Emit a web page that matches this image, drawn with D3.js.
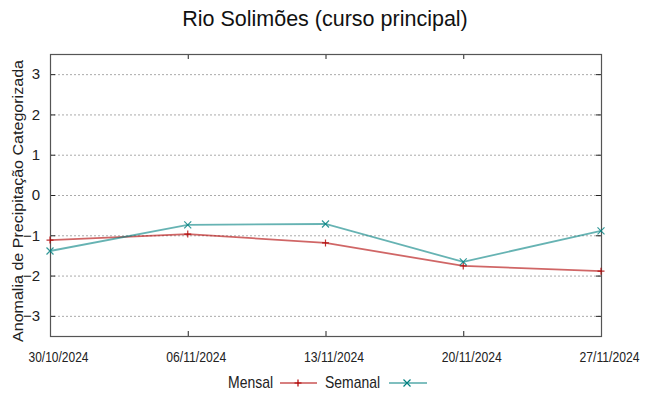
<!DOCTYPE html>
<html>
<head>
<meta charset="utf-8">
<script src="https://cdn.jsdelivr.net/npm/d3@7"></script>
<style>
  body { margin: 0; background: #fff; }
  svg { font-family: "Liberation Sans", Arial, sans-serif; }
</style>
</head>
<body>
<div id="chart"></div>
<script>
// Chart data
const dates = ["30/10/2024", "06/11/2024", "13/11/2024", "20/11/2024", "27/11/2024"];
const mensal = [-1.12, -0.97, -1.19, -1.76, -1.89];
const semanal = [-1.39, -0.74, -0.72, -1.66, -0.89];
const yTicks = [-3, -2, -1, 0, 1, 2, 3];

const width = 649, height = 396;
const margin = { top: 54, right: 48, bottom: 60, left: 50 };

const svg = d3.select("#chart").append("svg")
    .attr("width", width)
    .attr("height", height);

const parse = d3.timeParse("%d/%m/%Y");
const xDates = dates.map(parse);

const x = d3.scaleTime()
    .domain(d3.extent(xDates))
    .range([margin.left, width - margin.right]);

const y = d3.scaleLinear()
    .domain([-3.5, 3.5])
    .range([height - margin.bottom, margin.top]);

// Title
svg.append("text")
    .attr("x", 325)
    .attr("y", 26)
    .attr("text-anchor", "middle")
    .attr("font-size", 21.5)
    .attr("fill", "#111")
    .text("Rio Solimões (curso principal)");

// horizontal dotted grid
svg.append("g")
    .selectAll("line")
    .data(yTicks)
    .join("line")
    .attr("x1", margin.left)
    .attr("x2", width - margin.right)
    .attr("y1", d => y(d) + 0.5)
    .attr("y2", d => y(d) + 0.5)
    .attr("stroke", "#aaa")
    .attr("stroke-width", 1)
    .attr("stroke-dasharray", "2,2");

// axes, gnuplot style ticks pointing inward
const tickLen = 5;
svg.append("g")
    .attr("transform", `translate(${margin.left},0)`)
    .call(d3.axisLeft(y).tickValues(yTicks).tickSize(-tickLen).tickPadding(10).tickFormat(d3.format("d")))
    .call(g => g.select(".domain").remove())
    .call(g => g.selectAll("line").attr("stroke", "#222"))
    .call(g => g.selectAll("text").attr("font-size", 15).attr("fill", "#222")
        .attr("font-family", "Liberation Sans, Arial, sans-serif"));

svg.append("g")
    .attr("transform", `translate(${width - margin.right},0)`)
    .call(d3.axisRight(y).tickValues(yTicks).tickSize(-tickLen).tickFormat(""))
    .call(g => g.select(".domain").remove())
    .call(g => g.selectAll("line").attr("stroke", "#222"));

svg.append("g")
    .attr("transform", `translate(0,${height - margin.bottom})`)
    .call(d3.axisBottom(x).tickValues(xDates).tickSize(-tickLen).tickPadding(16)
        .tickFormat(d3.timeFormat("%d/%m/%Y")))
    .call(g => g.select(".domain").remove())
    .call(g => g.selectAll("line").attr("stroke", "#222"))
    .call(g => g.selectAll("text")
        .attr("font-size", 14)
        .attr("dx", 8)
        .attr("fill", "#222")
        .attr("font-family", "Liberation Sans, Arial, sans-serif")
        .attr("textLength", 60)
        .attr("lengthAdjust", "spacingAndGlyphs"));

svg.append("g")
    .attr("transform", `translate(0,${margin.top})`)
    .call(d3.axisTop(x).tickValues(xDates).tickSize(-tickLen).tickFormat(""))
    .call(g => g.select(".domain").remove())
    .call(g => g.selectAll("line").attr("stroke", "#222"));

// border
svg.append("rect")
    .attr("x", margin.left + 0.5)
    .attr("y", margin.top + 0.5)
    .attr("width", width - margin.left - margin.right)
    .attr("height", height - margin.top - margin.bottom)
    .attr("fill", "none")
    .attr("stroke", "#555")
    .attr("stroke-width", 1.2);

// y label
svg.append("text")
    .attr("transform", "translate(23,201) rotate(-90)")
    .attr("text-anchor", "middle")
    .attr("font-size", 15)
    .attr("fill", "#222")
    .attr("textLength", 282)
    .attr("lengthAdjust", "spacingAndGlyphs")
    .text("Anomalia de Precipitação Categorizada");

const series = [
    { name: "Mensal", values: mensal, color: "#b00000", marker: "plus" },
    { name: "Semanal", values: semanal, color: "#008080", marker: "cross" }
];

const line = d3.line()
    .x((d, i) => x(xDates[i]))
    .y(d => y(d));

function drawMarker(g, type, color) {
    const s = 3.5;
    if (type === "plus") {
        g.append("path").attr("d", `M${-s},0H${s}M0,${-s}V${s}`)
            .attr("stroke", color).attr("stroke-width", 1.2);
    } else {
        g.append("path").attr("d", `M${-s},${-s}L${s},${s}M${-s},${s}L${s},${-s}`)
            .attr("stroke", color).attr("stroke-width", 1.2);
    }
}

const plot = svg.append("g");
series.forEach(s => {
    plot.append("path")
        .datum(s.values)
        .attr("d", line)
        .attr("fill", "none")
        .attr("stroke", s.color)
        .attr("stroke-opacity", 0.6)
        .attr("stroke-width", 1.8);
    s.values.forEach((v, i) => {
        const g = plot.append("g")
            .attr("transform", `translate(${x(xDates[i])},${y(v)})`)
            .attr("opacity", 0.8);
        drawMarker(g, s.marker, s.color);
    });
});

// legend
const legend = svg.append("g").attr("fill", "#222");
const legendItems = [
    { text: "Mensal", tx: 228, tw: 45, lx1: 280, lx2: 317, m: 298 },
    { text: "Semanal", tx: 325, tw: 55, lx1: 389, lx2: 427, m: 407 }
];
legendItems.forEach((it, i) => {
    const s = series[i];
    legend.append("text")
        .attr("x", it.tx)
        .attr("y", 388)
        .attr("font-size", 17)
        .attr("textLength", it.tw)
        .attr("lengthAdjust", "spacingAndGlyphs")
        .text(it.text);
    legend.append("line")
        .attr("x1", it.lx1).attr("x2", it.lx2)
        .attr("y1", 383).attr("y2", 383)
        .attr("stroke", s.color)
        .attr("stroke-width", 1.2);
    const g = legend.append("g").attr("transform", `translate(${it.m},383)`);
    drawMarker(g, s.marker, s.color);
});
</script>
</body>
</html>
